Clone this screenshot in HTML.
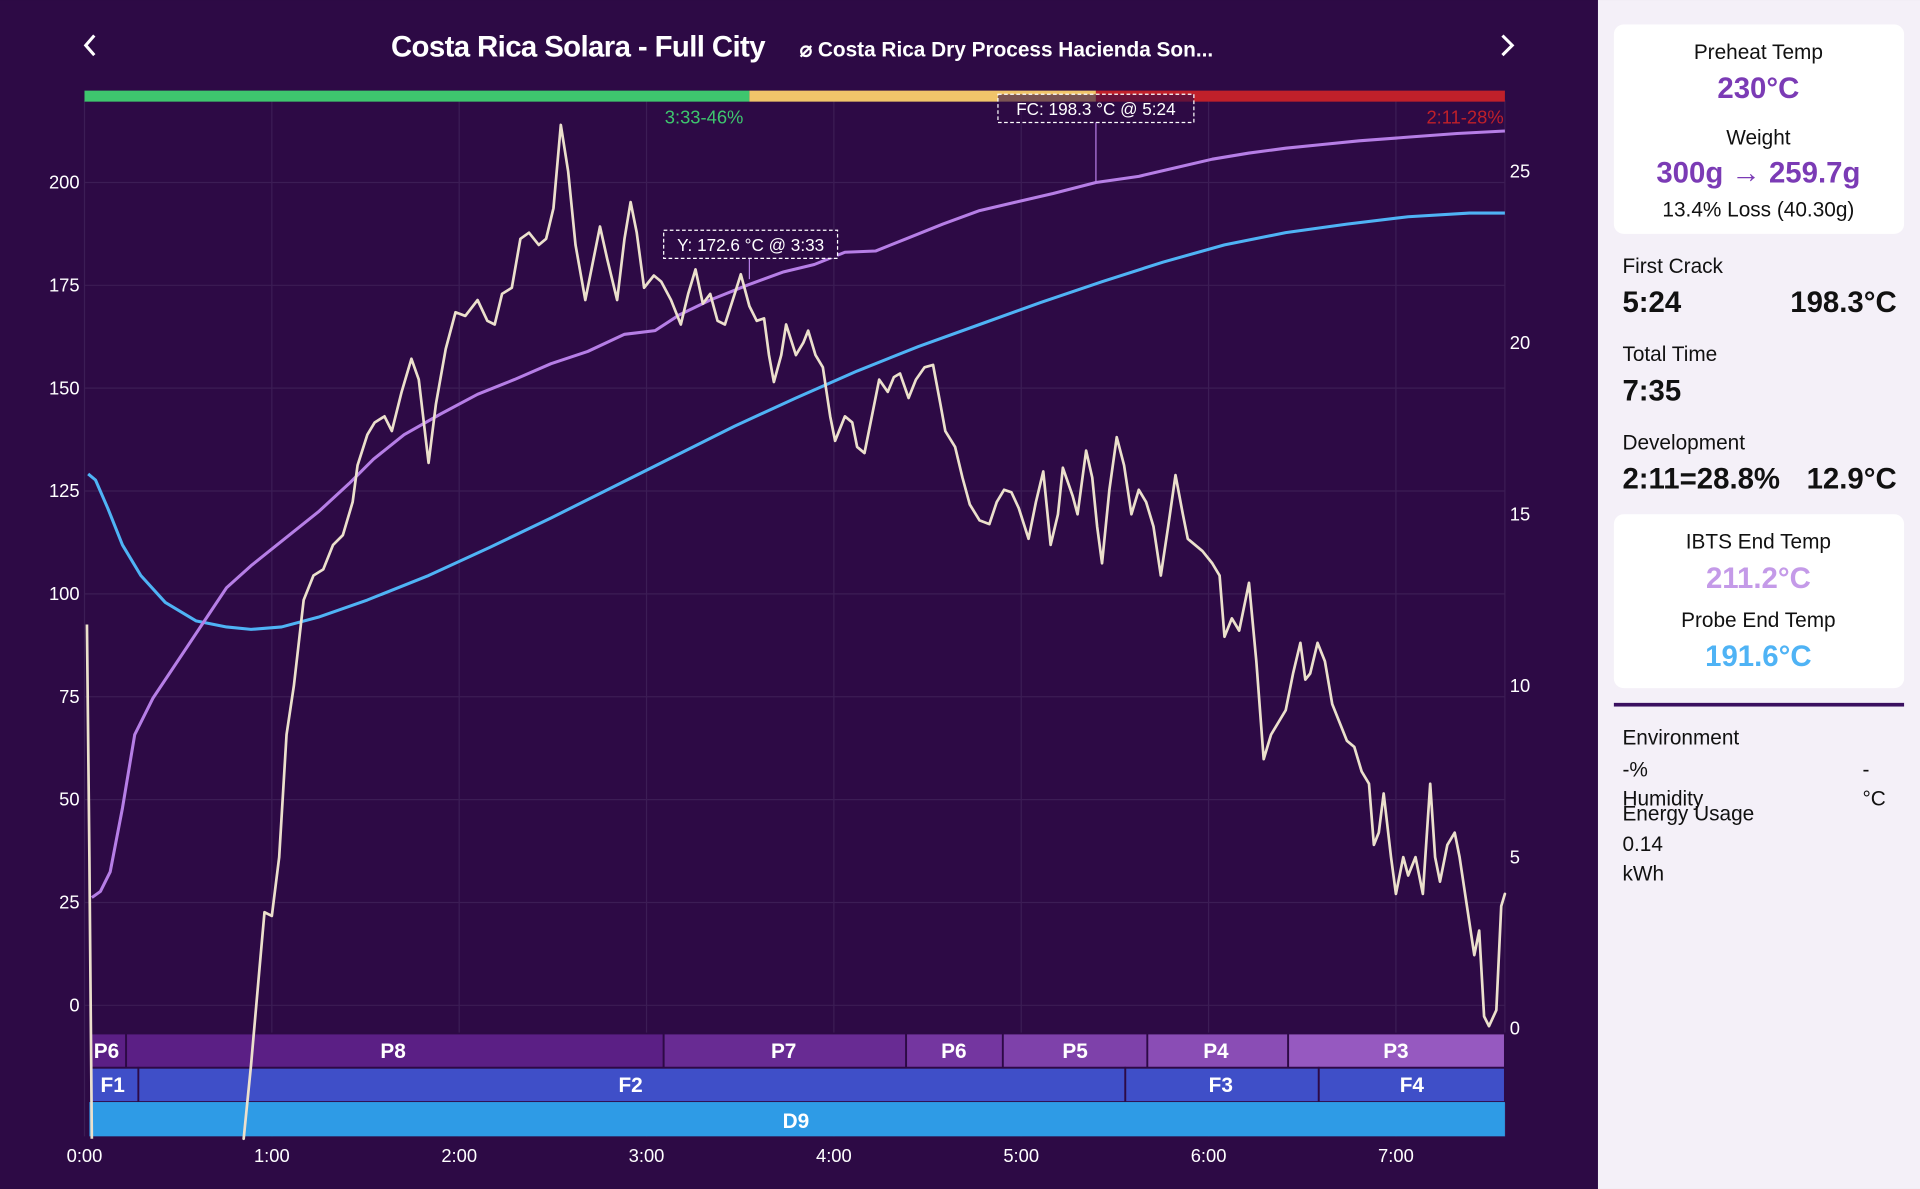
<!DOCTYPE html>
<html><head><meta charset="utf-8"><style>
html,body{margin:0;padding:0;background:#2d0a45;}
svg{display:block;}
text{font-family:"Liberation Sans",sans-serif;}
</style></head><body>
<svg width="1920" height="1189" viewBox="0 0 1568 971" xmlns="http://www.w3.org/2000/svg">
<rect x="0" y="0" width="1305" height="971" fill="#2d0a45"/>
<rect x="1305" y="0" width="263" height="971" fill="#f4f0f8"/>
<!-- header -->
<path d="M77 29 L70 37 L77 45" stroke="#fff" stroke-width="2.5" fill="none"/>
<path d="M1227 29 L1235 37 L1227 45" stroke="#fff" stroke-width="2.5" fill="none"/>
<text x="472" y="46" fill="#fff" font-size="24" font-weight="bold" text-anchor="middle" letter-spacing="-0.5">Costa Rica Solara - Full City</text>
<text x="653" y="46" fill="#fff" font-size="17" font-weight="bold">⌀ Costa Rica Dry Process Hacienda Son...</text>
<!-- grid -->
<g stroke="#3c1d55" stroke-width="1">
<line x1="69" y1="149" x2="1229" y2="149"/><line x1="69" y1="233" x2="1229" y2="233"/>
<line x1="69" y1="317" x2="1229" y2="317"/><line x1="69" y1="401" x2="1229" y2="401"/>
<line x1="69" y1="485" x2="1229" y2="485"/><line x1="69" y1="569" x2="1229" y2="569"/>
<line x1="69" y1="653" x2="1229" y2="653"/><line x1="69" y1="737" x2="1229" y2="737"/>
<line x1="69" y1="821" x2="1229" y2="821"/>
<line x1="69" y1="82" x2="69" y2="928"/><line x1="222" y1="82" x2="222" y2="928"/>
<line x1="375" y1="82" x2="375" y2="928"/><line x1="528" y1="82" x2="528" y2="928"/>
<line x1="681" y1="82" x2="681" y2="928"/><line x1="834" y1="82" x2="834" y2="928"/>
<line x1="987" y1="82" x2="987" y2="928"/><line x1="1140" y1="82" x2="1140" y2="928"/>
<line x1="1229" y1="82" x2="1229" y2="928"/>
</g>
<!-- color bar -->
<rect x="69" y="74" width="543" height="9" fill="#3ec66e"/>
<rect x="612" y="74" width="283" height="9" fill="#f0c46a"/>
<rect x="895" y="74" width="334" height="9" fill="#c0202a"/>
<text x="575" y="101" fill="#3ec66e" font-size="15" text-anchor="middle">3:33-46%</text>
<text x="1228" y="101" fill="#c0202a" font-size="15" text-anchor="end">2:11-28%</text>
<!-- axis labels -->
<g fill="#fff" font-size="15" text-anchor="end">
<text x="65" y="154">200</text><text x="65" y="238">175</text><text x="65" y="322">150</text>
<text x="65" y="406">125</text><text x="65" y="490">100</text><text x="65" y="574">75</text>
<text x="65" y="658">50</text><text x="65" y="742">25</text><text x="65" y="826">0</text>
</g>
<g fill="#fff" font-size="15">
<text x="1233" y="145">25</text><text x="1233" y="285">20</text><text x="1233" y="425">15</text>
<text x="1233" y="565">10</text><text x="1233" y="705">5</text><text x="1233" y="845">0</text>
</g>
<g fill="#fff" font-size="15" text-anchor="middle">
<text x="69" y="949">0:00</text><text x="222" y="949">1:00</text><text x="375" y="949">2:00</text>
<text x="528" y="949">3:00</text><text x="681" y="949">4:00</text><text x="834" y="949">5:00</text>
<text x="987" y="949">6:00</text><text x="1140" y="949">7:00</text>
</g>
<!-- bands -->
<g stroke="#2d0a45" stroke-width="1.5">
<rect x="73" y="844" width="30" height="28" fill="#5b1f85"/>
<rect x="103" y="844" width="439" height="28" fill="#5b1f85"/>
<rect x="542" y="844" width="198" height="28" fill="#682b93"/>
<rect x="740" y="844" width="79" height="28" fill="#7436a0"/>
<rect x="819" y="844" width="118" height="28" fill="#7e41aa"/>
<rect x="937" y="844" width="115" height="28" fill="#8a4db5"/>
<rect x="1052" y="844" width="177" height="28" fill="#9659c0"/>
<rect x="73" y="872" width="40" height="28" fill="#3f4fc8"/>
<rect x="113" y="872" width="806" height="28" fill="#3f4fc8"/>
<rect x="919" y="872" width="158" height="28" fill="#3f4fc8"/>
<rect x="1077" y="872" width="152" height="28" fill="#3f4fc8"/>
</g>
<rect x="73" y="900" width="1156" height="28" fill="#2e9be6"/>
<g fill="#fff" font-size="17" font-weight="bold" text-anchor="middle">
<text x="87" y="864">P6</text><text x="321" y="864">P8</text><text x="640" y="864">P7</text>
<text x="779" y="864">P6</text><text x="878" y="864">P5</text><text x="993" y="864">P4</text>
<text x="1140" y="864">P3</text>
<text x="92" y="892">F1</text><text x="515" y="892">F2</text><text x="997" y="892">F3</text>
<text x="1153" y="892">F4</text><text x="650" y="921">D9</text>
</g>
<!-- lines -->
<polyline fill="none" stroke="#4fb3f5" stroke-width="2.5" stroke-linejoin="round" points="72,387 78,392 88,415 100,445 115,470 135,492 160,507 185,512 205,514 230,512 260,504 300,490 350,470 400,447 450,423 500,398 550,373 600,348 650,325 700,303 750,283 800,265 850,247 900,230 950,214 1000,200 1050,190 1100,183 1150,177 1200,174 1229,174"/>
<polyline fill="none" stroke="#b67ee6" stroke-width="2.5" stroke-linejoin="round" points="75,733 82,728 90,712 100,660 110,600 125,570 145,540 165,510 185,480 205,462 230,442 260,418 285,395 305,375 330,355 360,338 390,322 420,310 450,297 480,287 510,273 535,270 555,257 580,245 610,233 640,222 665,216 690,206 715,205 740,195 770,183 800,172 830,165 860,158 895,149 930,144 960,137 990,130 1020,125 1050,121 1080,118 1110,115 1150,112 1190,109 1229,107"/>
<polyline fill="none" stroke="#ece0cc" stroke-width="2.2" stroke-linejoin="round" points="71,510 73,700 75,930"/>
<polyline fill="none" stroke="#ece0cc" stroke-width="2.2" stroke-linejoin="round" stroke-linecap="round" points="199,930 205,870 212,790 216,745 222,748 228,700 234,600 240,560 248,490 256,470 264,465 272,445 280,437 288,410 292,380 300,355 306,345 314,340 320,352 328,320 336,293 342,310 350,378 356,330 364,285 372,255 380,258 390,245 398,262 404,265 410,240 418,235 425,195 432,190 440,200 446,195 452,170 458,102 464,140 470,200 478,245 484,215 490,185 496,212 504,245 510,195 515,165 520,190 526,235 534,225 540,230 548,245 556,265 562,240 568,220 574,248 580,240 586,262 592,265 600,240 605,224 612,250 618,262 624,260 628,290 632,312 638,290 642,265 650,290 656,280 660,270 666,290 672,300 678,340 682,360 690,340 696,345 700,365 706,370 712,340 718,310 725,320 730,308 735,305 742,325 748,310 755,300 762,298 768,330 772,352 780,365 786,390 792,412 800,425 808,428 814,410 820,400 826,402 832,415 840,440 846,410 852,385 858,445 864,420 868,382 876,405 880,420 887,368 892,390 896,430 900,460 906,400 912,357 918,380 924,420 930,400 936,410 942,430 948,470 954,430 960,388 966,420 970,440 976,445 982,450 990,460 996,470 1000,520 1006,505 1012,515 1020,476 1026,540 1032,620 1038,600 1044,590 1050,580 1056,550 1062,525 1066,555 1070,550 1076,525 1082,540 1088,575 1094,590 1100,605 1106,610 1112,630 1118,640 1122,690 1126,680 1130,648 1136,700 1140,730 1146,700 1150,715 1156,700 1162,730 1168,640 1172,700 1176,720 1182,690 1188,680 1192,700 1198,740 1204,780 1208,760 1212,830 1216,838 1222,825 1226,740 1229,730"/>
<!-- annotations -->
<line x1="612" y1="211" x2="612" y2="228" stroke="#b67ee6" stroke-width="1"/>
<rect x="542" y="188" width="142" height="23" fill="#2d0a45" stroke="#fff" stroke-dasharray="3,2" stroke-width="1"/>
<text x="613" y="205" fill="#fff" font-size="14" text-anchor="middle">Y: 172.6 °C @ 3:33</text>
<line x1="895" y1="100" x2="895" y2="150" stroke="#b67ee6" stroke-width="1"/>
<rect x="815" y="77" width="160" height="23" fill="#2d0a45" fill-opacity="0.6" stroke="#fff" stroke-dasharray="3,2" stroke-width="1"/>
<text x="895" y="94" fill="#fff" font-size="14" text-anchor="middle">FC: 198.3 °C @ 5:24</text>
<!-- sidebar -->
<rect x="1318" y="20" width="237" height="171" rx="8" fill="#fff"/>
<rect x="1318" y="420" width="237" height="142" rx="8" fill="#fff"/>
<rect x="1318" y="574" width="237" height="3" fill="#3a1060"/>
<g font-size="17" fill="#111" text-anchor="middle">
<text x="1436" y="48">Preheat Temp</text>
<text x="1436" y="80" fill="#7b3bb5" font-size="24" font-weight="bold">230°C</text>
<text x="1436" y="118">Weight</text>
<text x="1436" y="149" fill="#7b3bb5" font-size="24" font-weight="bold">300g → 259.7g</text>
<text x="1436" y="177">13.4% Loss (40.30g)</text>
<text x="1436" y="448">IBTS End Temp</text>
<text x="1436" y="480" fill="#c49ae8" font-size="24" font-weight="bold">211.2°C</text>
<text x="1436" y="512">Probe End Temp</text>
<text x="1436" y="544" fill="#4fb3f5" font-size="24" font-weight="bold">191.6°C</text>
</g>
<g font-size="17" fill="#111">
<text x="1325" y="223">First Crack</text>
<text x="1325" y="255" font-size="24" font-weight="bold">5:24</text>
<text x="1549" y="255" font-size="24" font-weight="bold" text-anchor="end">198.3°C</text>
<text x="1325" y="295">Total Time</text>
<text x="1325" y="327" font-size="24" font-weight="bold">7:35</text>
<text x="1325" y="367">Development</text>
<text x="1325" y="399" font-size="24" font-weight="bold">2:11=28.8%</text>
<text x="1549" y="399" font-size="24" font-weight="bold" text-anchor="end">12.9°C</text>
<text x="1325" y="608">Environment</text>
<text x="1325" y="634">-%</text>
<text x="1521" y="634">-</text>
<text x="1325" y="658">Humidity</text>
<text x="1521" y="658">°C</text>
<text x="1325" y="670">Energy Usage</text>
<text x="1325" y="695">0.14</text>
<text x="1325" y="719">kWh</text>
</g>
</svg>
</body></html>
